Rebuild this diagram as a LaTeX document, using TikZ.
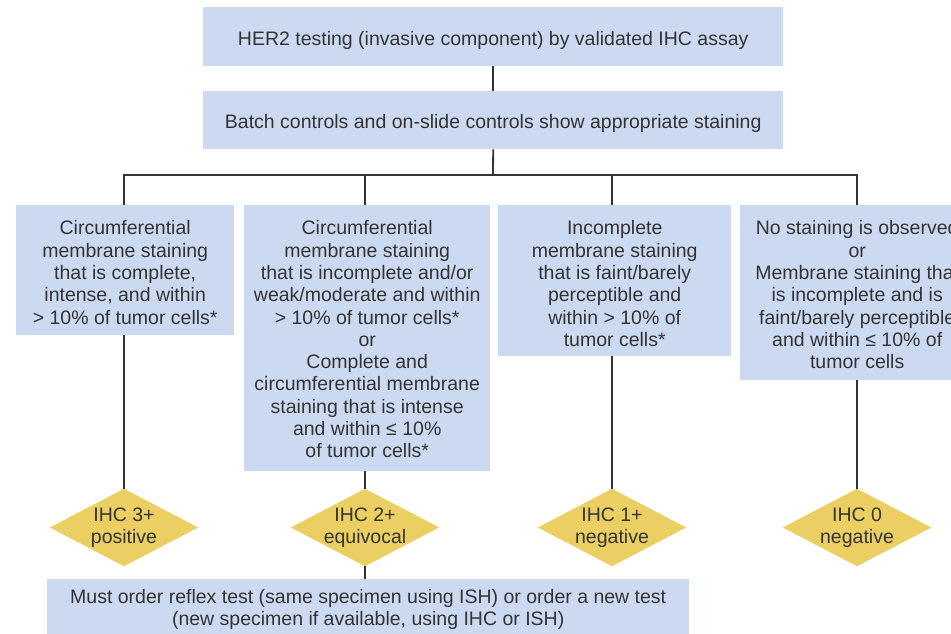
\documentclass[tikz,border=0pt]{standalone}
\usepackage{fontspec}
\setmainfont{Liberation Sans}
\usetikzlibrary{backgrounds}
\definecolor{boxblue}{HTML}{CCDAF1}
\definecolor{diayellow}{HTML}{ECCF62}
\definecolor{ink}{HTML}{333333}
\newcommand{\txtbox}[4]{\parbox[c][#1][t]{#2}{\centering\vspace*{#3}\strut #4}}
\tikzset{
  ibox/.style={fill=boxblue, inner sep=0pt, anchor=north west, text=ink,
    font=\fontsize{19.5}{22.3}\selectfont},
  dlabel/.style={rectangle, minimum width=148pt, minimum height=77pt, inner sep=0pt,
    align=center, text=ink, font=\fontsize{19.5}{22.3}\selectfont},
  conn/.style={draw=ink, line width=1.8pt},
  dfill/.style={fill=diayellow}
}
\begin{document}
\begin{tikzpicture}[x=1pt,y=-1pt]
\useasboundingbox (0,0) rectangle (951,634);
\clip (0,0) rectangle (951,634);

\node[ibox] (t1) at (203,7) {\txtbox{59pt}{580pt}{22.4pt}{HER2 testing (invasive component) by validated IHC assay}};
\node[ibox] (t2) at (203,91) {\txtbox{58pt}{580pt}{21.4pt}{Batch controls and on-slide controls show appropriate staining}};

\node[ibox] (b1) at (16,205) {\txtbox{130pt}{218pt}{14pt}{Circumferential\\ membrane staining\\ that is complete,\\ intense, and within\\ {>} 10\% of tumor cells*}};
\node[ibox] (b2) at (244,205) {\txtbox{266pt}{246pt}{14pt}{Circumferential\\ membrane staining\\ that is incomplete and/or\\ weak/moderate and within\\ {>} 10\% of tumor cells*\\ or\\ Complete and\\ circumferential membrane\\ staining that is intense\\ and within ≤ 10\%\\ of tumor cells*}};
\node[ibox] (b3) at (498,205) {\txtbox{151pt}{233pt}{14pt}{Incomplete\\ membrane staining\\ that is faint/barely\\ perceptible and\\ within {>} 10\% of\\ tumor cells*}};
\node[ibox] (b4) at (740,205) {\txtbox{175pt}{234pt}{14pt}{No staining is observed\\ or\\ Membrane staining that\\ is incomplete and is\\ faint/barely perceptible\\ and within ≤ 10\% of\\ tumor cells}};

\node[dlabel] (d1) at (124,527.5) {IHC 3+\\positive};
\node[dlabel] (d2) at (365,527.5) {IHC 2+\\equivocal};
\node[dlabel] (d3) at (612,527.5) {IHC 1+\\negative};
\node[dlabel] (d4) at (857,527.5) {IHC 0\\negative};
\begin{scope}[on background layer]
  \fill[white] (0,0) rectangle (951,634);
  \foreach \d in {d1,d2,d3,d4}
    \fill[dfill] (\d.north) -- (\d.east) -- (\d.south) -- (\d.west) -- cycle;
\end{scope}

\node[ibox] (bt) at (47,579) {\txtbox{60pt}{642pt}{8.4pt}{Must order reflex test (same specimen using ISH) or order a new test\\ (new specimen if available, using IHC or ISH)}};

\coordinate (bus) at (493,175);
\draw[conn] (t1.south) -- (t2.north);
\draw[conn] (t2.south) -- (bus);
\draw[conn] (d1.north |- b1.north) -- (d1.north |- bus) -- (d4.north |- bus) -- (d4.north |- b4.north);
\draw[conn] (d2.north |- bus) -- (d2.north |- b2.north);
\draw[conn] (d3.north |- bus) -- (d3.north |- b3.north);
\draw[conn] (d1.north |- b1.south) -- (d1.north);
\draw[conn] (d2.north |- b2.south) -- (d2.north);
\draw[conn] (d3.north |- b3.south) -- (d3.north);
\draw[conn] (d4.north |- b4.south) -- (d4.north);
\draw[conn] (d2.south) -- (d2.south |- bt.north);
\end{tikzpicture}
\end{document}
